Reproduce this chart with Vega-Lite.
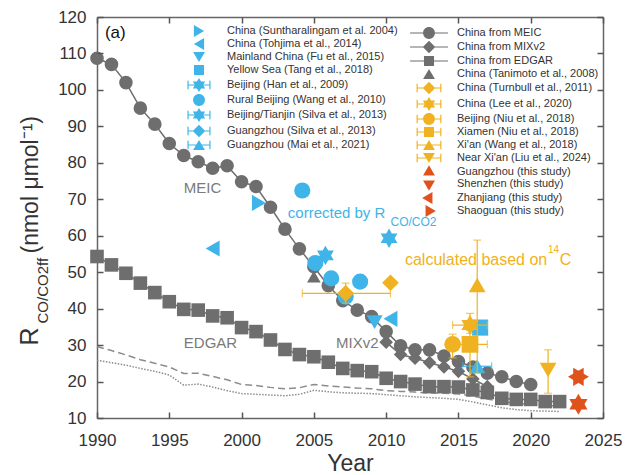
{
  "$schema": "https://vega.github.io/schema/vega-lite/v6.json",
  "width": 506,
  "height": 401,
  "autosize": "none",
  "padding": {"left": 97, "top": 17, "right": 30, "bottom": 57},
  "background": "white",
  "config": {
    "font": "Liberation Sans",
    "view": {"stroke": null},
    "axis": {
      "grid": false,
      "domainColor": "#666666",
      "domainWidth": 1.5,
      "tickColor": "#555555",
      "tickWidth": 1.5,
      "tickSize": 6,
      "labelFont": "Liberation Sans",
      "labelFontSize": 17,
      "labelColor": "#333333",
      "labelFlush": false,
      "labelOverlap": false,
      "titleFont": "Liberation Sans",
      "titleColor": "#333333",
      "titleFontWeight": "normal"
    },
    "legend": {
      "labelFont": "Liberation Sans",
      "labelFontSize": 11,
      "labelColor": "#333333",
      "labelLimit": 300,
      "symbolSize": 140,
      "symbolStrokeWidth": 0,
      "symbolOffset": 0,
      "rowPadding": 1,
      "padding": 0,
      "labelOffset": 22
    }
  },
  "datasets": {
    "refs": [
      {"series": "dashed", "year": 1990, "value": 29.6}, {"series": "dashed", "year": 1991, "value": 28.5},
      {"series": "dashed", "year": 1992, "value": 27.3}, {"series": "dashed", "year": 1993, "value": 26.0},
      {"series": "dashed", "year": 1994, "value": 25.0}, {"series": "dashed", "year": 1995, "value": 24.0},
      {"series": "dashed", "year": 1996, "value": 22.2}, {"series": "dashed", "year": 1997, "value": 22.3},
      {"series": "dashed", "year": 1998, "value": 21.4}, {"series": "dashed", "year": 1999, "value": 20.5},
      {"series": "dashed", "year": 2000, "value": 19.2}, {"series": "dashed", "year": 2001, "value": 18.9},
      {"series": "dashed", "year": 2002, "value": 18.4}, {"series": "dashed", "year": 2003, "value": 18.0},
      {"series": "dashed", "year": 2004, "value": 18.3}, {"series": "dashed", "year": 2005, "value": 19.2},
      {"series": "dashed", "year": 2006, "value": 18.8}, {"series": "dashed", "year": 2007, "value": 18.5},
      {"series": "dashed", "year": 2008, "value": 18.2}, {"series": "dashed", "year": 2009, "value": 18.0},
      {"series": "dashed", "year": 2010, "value": 17.5}, {"series": "dashed", "year": 2011, "value": 17.3},
      {"series": "dashed", "year": 2012, "value": 17.1}, {"series": "dashed", "year": 2013, "value": 16.9},
      {"series": "dashed", "year": 2014, "value": 16.8}, {"series": "dashed", "year": 2015, "value": 16.6},
      {"series": "dashed", "year": 2016, "value": 16.0}, {"series": "dashed", "year": 2017, "value": 15.2},
      {"series": "dashed", "year": 2018, "value": 14.5}, {"series": "dashed", "year": 2019, "value": 14.0},
      {"series": "dashed", "year": 2020, "value": 13.8}, {"series": "dashed", "year": 2021, "value": 13.5},
      {"series": "dashed", "year": 2022, "value": 13.2},
      {"series": "dotted", "year": 1990, "value": 25.8}, {"series": "dotted", "year": 1991, "value": 25.2},
      {"series": "dotted", "year": 1992, "value": 24.5}, {"series": "dotted", "year": 1993, "value": 23.6},
      {"series": "dotted", "year": 1994, "value": 22.8}, {"series": "dotted", "year": 1995, "value": 21.8},
      {"series": "dotted", "year": 1996, "value": 19.0}, {"series": "dotted", "year": 1997, "value": 19.3},
      {"series": "dotted", "year": 1998, "value": 18.5}, {"series": "dotted", "year": 1999, "value": 17.5},
      {"series": "dotted", "year": 2000, "value": 16.7}, {"series": "dotted", "year": 2001, "value": 16.5},
      {"series": "dotted", "year": 2002, "value": 16.3}, {"series": "dotted", "year": 2003, "value": 16.1},
      {"series": "dotted", "year": 2004, "value": 16.5}, {"series": "dotted", "year": 2005, "value": 17.6},
      {"series": "dotted", "year": 2006, "value": 17.2}, {"series": "dotted", "year": 2007, "value": 16.9},
      {"series": "dotted", "year": 2008, "value": 16.8}, {"series": "dotted", "year": 2009, "value": 16.7},
      {"series": "dotted", "year": 2010, "value": 16.4}, {"series": "dotted", "year": 2011, "value": 16.1},
      {"series": "dotted", "year": 2012, "value": 15.8}, {"series": "dotted", "year": 2013, "value": 15.6},
      {"series": "dotted", "year": 2014, "value": 15.4}, {"series": "dotted", "year": 2015, "value": 15.1},
      {"series": "dotted", "year": 2016, "value": 14.4}, {"series": "dotted", "year": 2017, "value": 13.6},
      {"series": "dotted", "year": 2018, "value": 12.8}, {"series": "dotted", "year": 2019, "value": 12.3},
      {"series": "dotted", "year": 2020, "value": 12.0}, {"series": "dotted", "year": 2021, "value": 11.9},
      {"series": "dotted", "year": 2022, "value": 11.8}
    ],
    "setB": [
      {"series": "China from MEIC", "year": 1990, "value": 108.7}, {"series": "China from MEIC", "year": 1991, "value": 107.0},
      {"series": "China from MEIC", "year": 1992, "value": 102.0}, {"series": "China from MEIC", "year": 1993, "value": 95.0},
      {"series": "China from MEIC", "year": 1994, "value": 90.6}, {"series": "China from MEIC", "year": 1995, "value": 85.3},
      {"series": "China from MEIC", "year": 1996, "value": 82.0}, {"series": "China from MEIC", "year": 1997, "value": 80.3},
      {"series": "China from MEIC", "year": 1998, "value": 78.5}, {"series": "China from MEIC", "year": 1999, "value": 79.2},
      {"series": "China from MEIC", "year": 2000, "value": 74.8}, {"series": "China from MEIC", "year": 2001, "value": 73.5},
      {"series": "China from MEIC", "year": 2002, "value": 67.8}, {"series": "China from MEIC", "year": 2003, "value": 61.8},
      {"series": "China from MEIC", "year": 2004, "value": 56.4}, {"series": "China from MEIC", "year": 2005, "value": 51.5},
      {"series": "China from MEIC", "year": 2006, "value": 46.3}, {"series": "China from MEIC", "year": 2007, "value": 42.2},
      {"series": "China from MEIC", "year": 2008, "value": 39.6}, {"series": "China from MEIC", "year": 2009, "value": 37.8},
      {"series": "China from MEIC", "year": 2010, "value": 33.7}, {"series": "China from MEIC", "year": 2011, "value": 29.8},
      {"series": "China from MEIC", "year": 2012, "value": 28.7}, {"series": "China from MEIC", "year": 2013, "value": 28.7},
      {"series": "China from MEIC", "year": 2014, "value": 27.0}, {"series": "China from MEIC", "year": 2015, "value": 25.5},
      {"series": "China from MEIC", "year": 2016, "value": 24.0}, {"series": "China from MEIC", "year": 2017, "value": 22.3},
      {"series": "China from MEIC", "year": 2018, "value": 21.3}, {"series": "China from MEIC", "year": 2019, "value": 20.0},
      {"series": "China from MEIC", "year": 2020, "value": 19.2},
      {"series": "China from MIXv2", "year": 2010, "value": 30.8}, {"series": "China from MIXv2", "year": 2011, "value": 27.4},
      {"series": "China from MIXv2", "year": 2012, "value": 26.4}, {"series": "China from MIXv2", "year": 2013, "value": 25.2},
      {"series": "China from MIXv2", "year": 2014, "value": 24.0}, {"series": "China from MIXv2", "year": 2015, "value": 22.8},
      {"series": "China from MIXv2", "year": 2016, "value": 20.7}, {"series": "China from MIXv2", "year": 2017, "value": 18.6},
      {"series": "China from EDGAR", "year": 1990, "value": 54.3}, {"series": "China from EDGAR", "year": 1991, "value": 52.0},
      {"series": "China from EDGAR", "year": 1992, "value": 49.7}, {"series": "China from EDGAR", "year": 1993, "value": 47.0},
      {"series": "China from EDGAR", "year": 1994, "value": 44.4}, {"series": "China from EDGAR", "year": 1995, "value": 41.9},
      {"series": "China from EDGAR", "year": 1996, "value": 39.8}, {"series": "China from EDGAR", "year": 1997, "value": 39.6},
      {"series": "China from EDGAR", "year": 1998, "value": 38.0}, {"series": "China from EDGAR", "year": 1999, "value": 37.5},
      {"series": "China from EDGAR", "year": 2000, "value": 34.8}, {"series": "China from EDGAR", "year": 2001, "value": 33.7},
      {"series": "China from EDGAR", "year": 2002, "value": 31.4}, {"series": "China from EDGAR", "year": 2003, "value": 28.8},
      {"series": "China from EDGAR", "year": 2004, "value": 27.4}, {"series": "China from EDGAR", "year": 2005, "value": 26.8},
      {"series": "China from EDGAR", "year": 2006, "value": 25.3}, {"series": "China from EDGAR", "year": 2007, "value": 23.6},
      {"series": "China from EDGAR", "year": 2008, "value": 23.0}, {"series": "China from EDGAR", "year": 2009, "value": 22.7},
      {"series": "China from EDGAR", "year": 2010, "value": 20.9}, {"series": "China from EDGAR", "year": 2011, "value": 20.0},
      {"series": "China from EDGAR", "year": 2012, "value": 19.3}, {"series": "China from EDGAR", "year": 2013, "value": 18.6},
      {"series": "China from EDGAR", "year": 2014, "value": 18.6}, {"series": "China from EDGAR", "year": 2015, "value": 18.5},
      {"series": "China from EDGAR", "year": 2016, "value": 17.7}, {"series": "China from EDGAR", "year": 2017, "value": 17.0},
      {"series": "China from EDGAR", "year": 2018, "value": 15.4}, {"series": "China from EDGAR", "year": 2019, "value": 15.1},
      {"series": "China from EDGAR", "year": 2020, "value": 15.1}, {"series": "China from EDGAR", "year": 2021, "value": 14.5},
      {"series": "China from EDGAR", "year": 2022, "value": 14.5},
      {"series": "China (Tanimoto et al., 2008)", "year": 2005, "value": 48.8},
      {"series": "China (Turnbull et al., 2011)", "year": 2007.2, "value": 44.2},
      {"series": "China (Turnbull et al., 2011)", "year": 2010.3, "value": 47.1},
      {"series": "China (Lee et al., 2020)", "year": 2015.8, "value": 35.5},
      {"series": "Beijing (Niu et al., 2018)", "year": 2014.6, "value": 30.2},
      {"series": "Xiamen (Niu et al., 2018)", "year": 2015.8, "value": 30.2},
      {"series": "Xi'an (Wang et al., 2018)", "year": 2016.3, "value": 46.5},
      {"series": "Near Xi'an (Liu et al., 2024)", "year": 2021.2, "value": 23.2},
      {"series": "Guangzhou (this study)", "year": 2023.3, "value": 13.8},
      {"series": "Shenzhen (this study)", "year": 2023.3, "value": 13.8},
      {"series": "Zhanjiang (this study)", "year": 2023.3, "value": 21.3},
      {"series": "Shaoguan (this study)", "year": 2023.3, "value": 21.3}
    ],
    "setA": [
      {"series": "China (Suntharalingam et al. 2004)", "year": 2001.2, "value": 69.0},
      {"series": "China (Tohjima et al., 2014)", "year": 1998.0, "value": 56.5},
      {"series": "China (Tohjima et al., 2014)", "year": 2010.3, "value": 37.2},
      {"series": "Mainland China (Fu et al., 2015)", "year": 2009.2, "value": 36.3},
      {"series": "Yellow Sea (Tang et al., 2018)", "year": 2016.5, "value": 34.8},
      {"series": "Beijing (Han et al., 2009)", "year": 2005.8, "value": 54.6},
      {"series": "Rural Beijing (Wang et al., 2010)", "year": 2004.2, "value": 72.4},
      {"series": "Rural Beijing (Wang et al., 2010)", "year": 2005.1, "value": 52.5},
      {"series": "Rural Beijing (Wang et al., 2010)", "year": 2006.2, "value": 48.3},
      {"series": "Rural Beijing (Wang et al., 2010)", "year": 2007.2, "value": 43.3},
      {"series": "Rural Beijing (Wang et al., 2010)", "year": 2008.2, "value": 47.4},
      {"series": "Beijing/Tianjin (Silva et al., 2013)", "year": 2010.2, "value": 59.3},
      {"series": "Guangzhou (Mai et al., 2021)", "year": 2016.3, "value": 24.2}
    ],
    "xerr": [
      {"series": "China (Turnbull et al., 2011)", "group": "c14", "value": 44.2, "lo": 2004.2, "hi": 2010.3},
      {"series": "China (Lee et al., 2020)", "group": "c14", "value": 35.5, "lo": 2014.6, "hi": 2017.0},
      {"series": "Xiamen (Niu et al., 2018)", "group": "c14", "value": 30.2, "lo": 2014.6, "hi": 2017.0},
      {"series": "Guangzhou (Mai et al., 2021)", "group": "ratio", "value": 24.2, "lo": 2015.3, "hi": 2017.3}
    ],
    "yerr": [
      {"series": "China (Turnbull et al., 2011)", "group": "c14", "year": 2007.2, "lo": 41.5, "hi": 47.0},
      {"series": "China (Lee et al., 2020)", "group": "c14", "year": 2015.8, "lo": 33.2, "hi": 38.7},
      {"series": "Beijing (Niu et al., 2018)", "group": "c14", "year": 2014.6, "lo": 26.5, "hi": 33.0},
      {"series": "Xiamen (Niu et al., 2018)", "group": "c14", "year": 2015.8, "lo": 21.3, "hi": 34.0},
      {"series": "Xi'an (Wang et al., 2018)", "group": "c14", "year": 2016.3, "lo": 22.3, "hi": 58.8},
      {"series": "Near Xi'an (Liu et al., 2024)", "group": "c14", "year": 2021.2, "lo": 16.8, "hi": 28.7}
    ]
  },
  "layer": [
    {
      "data": {"name": "refs"},
      "mark": {"type": "line", "color": "#8c8c8c", "strokeWidth": 1.5},
      "encoding": {
        "x": {"field": "year", "type": "quantitative", "scale": {"domain": [1990, 2025], "nice": false, "zero": false},
          "axis": {"orient": "bottom", "values": [1990, 1995, 2000, 2005, 2010, 2015, 2020, 2025], "format": "d", "ticks": false, "labelPadding": 14,
            "title": "Year", "titleFontSize": 23, "titleBaseline": "middle", "titleY": 45}},
        "y": {"field": "value", "type": "quantitative", "scale": {"domain": [10, 120], "nice": false, "zero": false},
          "axis": {"orient": "left", "values": [10, 20, 30, 40, 50, 60, 70, 80, 90, 100, 110, 120], "ticks": false, "labelPadding": 11,
            "title": "R", "titleFontSize": 25, "titleAngle": -90, "titleAlign": "left", "titleBaseline": "middle", "titleX": -68, "titleY": 328}},
        "strokeDash": {"field": "series", "type": "nominal", "scale": {"domain": ["dashed", "dotted"], "range": [[7, 4], [1.5, 1.5]]}, "legend": null}
      }
    },
    {
      "data": {"name": "setB"},
      "transform": [{"filter": {"field": "series", "oneOf": ["China from MEIC", "China from MIXv2", "China from EDGAR"]}}],
      "mark": {"type": "line", "color": "#6e6e6e", "strokeWidth": 1.5},
      "encoding": {
        "x": {"field": "year", "type": "quantitative", "scale": {"domain": [1990, 2025], "nice": false, "zero": false},
          "axis": {"orient": "top", "ticks": false, "labels": false, "title": null}},
        "y": {"field": "value", "type": "quantitative", "scale": {"domain": [10, 120], "nice": false, "zero": false},
          "axis": {"orient": "left", "labels": false, "ticks": false, "domain": false,
            "title": "CO/CO2ff", "titleFontSize": 15, "titleAngle": -90, "titleAlign": "left", "titleBaseline": "middle", "titleX": -55, "titleY": 306}},
        "detail": {"field": "series", "type": "nominal"}
      }
    },
    {
      "data": {"name": "setB"},
      "transform": [{"filter": {"field": "series", "oneOf": ["China from MEIC", "China from MIXv2", "China from EDGAR", "China (Tanimoto et al., 2008)"]}}],
      "mark": {"type": "point", "filled": true, "opacity": 1, "size": 185, "color": "#6e6e6e"},
      "encoding": {
        "x": {"field": "year", "type": "quantitative", "scale": {"domain": [1990, 2025], "nice": false, "zero": false},
          "axis": {"orient": "bottom", "values": [1990, 1995, 2000, 2005, 2010, 2015, 2020, 2025], "offset": -6, "domain": false, "labels": false, "ticks": true, "tickSize": 6, "zindex": 2, "title": null}},
        "y": {"field": "value", "type": "quantitative", "scale": {"domain": [10, 120], "nice": false, "zero": false},
          "axis": {"orient": "right", "ticks": false, "labels": false, "title": null}},
        "shape": {"field": "series", "type": "nominal",
          "scale": {"domain": ["China from MEIC", "China from MIXv2", "China from EDGAR", "China (Tanimoto et al., 2008)"],
            "range": ["circle", "diamond", "square", "triangle-up"]},
          "legend": null}
      }
    },
    {
      "data": {"name": "setA"},
      "mark": {"type": "point", "filled": true, "opacity": 1, "size": 260, "color": "#3fb4e8"},
      "encoding": {
        "x": {"field": "year", "type": "quantitative", "scale": {"domain": [1990, 2025], "nice": false, "zero": false},
          "axis": {"orient": "top", "values": [1990, 1995, 2000, 2005, 2010, 2015, 2020, 2025], "offset": -6, "domain": false, "labels": false, "ticks": true, "tickSize": 6, "zindex": 2, "title": null}},
        "y": {"field": "value", "type": "quantitative", "scale": {"domain": [10, 120], "nice": false, "zero": false},
          "axis": {"orient": "left", "labels": false, "ticks": false, "domain": false,
            "title": "(nmol μmol⁻¹)", "titleFontSize": 23, "titleAngle": -90, "titleAlign": "left", "titleBaseline": "middle", "titleX": -67, "titleY": 236}},
        "shape": {"field": "series", "type": "nominal",
          "scale": {"domain": ["China (Suntharalingam et al. 2004)", "China (Tohjima et al., 2014)", "Mainland China (Fu et al., 2015)", "Yellow Sea (Tang et al., 2018)", "Beijing (Han et al., 2009)", "Rural Beijing (Wang et al., 2010)", "Beijing/Tianjin (Silva et al., 2013)", "Guangzhou (Silva et al., 2013)", "Guangzhou (Mai et al., 2021)"],
            "range": ["triangle-right", "triangle-left", "triangle-down", "square", "M0,-1.2L0.346,-0.6L1.039,-0.6L0.693,0L1.039,0.6L0.346,0.6L0,1.2L-0.346,0.6L-1.039,0.6L-0.693,0L-1.039,-0.6L-0.346,-0.6Z", "circle", "M0,-1.2L0.346,-0.6L1.039,-0.6L0.693,0L1.039,0.6L0.346,0.6L0,1.2L-0.346,0.6L-1.039,0.6L-0.693,0L-1.039,-0.6L-0.346,-0.6Z", "diamond", "triangle-up"]},
          "legend": null}
      }
    },
    {
      "data": {"name": "setA"},
      "transform": [{"filter": "false"}],
      "mark": {"type": "point", "filled": true, "opacity": 1},
      "encoding": {
        "x": {"field": "year", "type": "quantitative", "scale": {"domain": [1990, 2025], "nice": false, "zero": false}, "axis": null},
        "y": {"field": "value", "type": "quantitative", "scale": {"domain": [10, 120], "nice": false, "zero": false}, "axis": null},
        "color": {"field": "series", "type": "nominal",
          "scale": {"domain": ["China (Suntharalingam et al. 2004)", "China (Tohjima et al., 2014)", "Mainland China (Fu et al., 2015)", "Yellow Sea (Tang et al., 2018)", "Beijing (Han et al., 2009)", "Rural Beijing (Wang et al., 2010)", "Beijing/Tianjin (Silva et al., 2013)", "Guangzhou (Silva et al., 2013)", "Guangzhou (Mai et al., 2021)"],
            "range": ["#3fb4e8", "#3fb4e8", "#3fb4e8", "#3fb4e8", "#3fb4e8", "#3fb4e8", "#3fb4e8", "#3fb4e8", "#3fb4e8"]},
          "legend": {"title": null, "orient": "none", "legendX": 96, "legendY": 8}},
        "shape": {"field": "series", "type": "nominal",
          "scale": {"domain": ["China (Suntharalingam et al. 2004)", "China (Tohjima et al., 2014)", "Mainland China (Fu et al., 2015)", "Yellow Sea (Tang et al., 2018)", "Beijing (Han et al., 2009)", "Rural Beijing (Wang et al., 2010)", "Beijing/Tianjin (Silva et al., 2013)", "Guangzhou (Silva et al., 2013)", "Guangzhou (Mai et al., 2021)"],
            "range": [
              "M-3.2,0 M3.2,0 M0.866,0L-0.866,-1L-0.866,1Z",
              "M-3.2,0 M3.2,0 M-0.866,0L0.866,1L0.866,-1Z",
              "M-3.2,0 M3.2,0 M0,0.866L-1,-0.866L1,-0.866Z",
              "M-3.2,0 M3.2,0 M-0.85,-0.85H0.85V0.85H-0.85Z",
              "M-3.2,0 M3.2,0 M-1.85,-0.09H1.85V0.09H-1.85Z M-1.95,-0.7H-1.75V0.7H-1.95Z M1.75,-0.7H1.95V0.7H1.75Z M0,-1.2L0.346,-0.6L1.039,-0.6L0.693,0L1.039,0.6L0.346,0.6L0,1.2L-0.346,0.6L-1.039,0.6L-0.693,0L-1.039,-0.6L-0.346,-0.6Z",
              "M-3.2,0 M3.2,0 M-1,0A1,1,0,1,1,1,0A1,1,0,1,1,-1,0Z",
              "M-3.2,0 M3.2,0 M-1.85,-0.09H1.85V0.09H-1.85Z M-1.95,-0.7H-1.75V0.7H-1.95Z M1.75,-0.7H1.95V0.7H1.75Z M0,-1.2L0.346,-0.6L1.039,-0.6L0.693,0L1.039,0.6L0.346,0.6L0,1.2L-0.346,0.6L-1.039,0.6L-0.693,0L-1.039,-0.6L-0.346,-0.6Z",
              "M-3.2,0 M3.2,0 M-1.85,-0.09H1.85V0.09H-1.85Z M-1.95,-0.7H-1.75V0.7H-1.95Z M1.75,-0.7H1.95V0.7H1.75Z M0,-1.05L1.05,0L0,1.05L-1.05,0Z",
              "M-3.2,0 M3.2,0 M-1.85,-0.09H1.85V0.09H-1.85Z M-1.95,-0.7H-1.75V0.7H-1.95Z M1.75,-0.7H1.95V0.7H1.75Z M0,-0.866L1,0.866L-1,0.866Z"
            ]},
          "legend": {"title": null, "orient": "none", "legendX": 96, "legendY": 8}}
      }
    },
    {
      "data": {"name": "xerr"},
      "mark": {"type": "rule", "strokeWidth": 1.2},
      "encoding": {
        "x": {"field": "lo", "type": "quantitative", "scale": {"domain": [1990, 2025], "nice": false, "zero": false}, "axis": null},
        "x2": {"field": "hi"},
        "y": {"field": "value", "type": "quantitative", "scale": {"domain": [10, 120], "nice": false, "zero": false},
          "axis": {"orient": "left", "values": [10, 20, 30, 40, 50, 60, 70, 80, 90, 100, 110, 120], "offset": -6, "domain": false, "labels": false, "ticks": true, "tickSize": 6, "zindex": 2, "title": null}},
        "color": {"field": "group", "type": "nominal", "scale": {"domain": ["ratio", "c14"], "range": ["#3fb4e8", "#f0b220"]}, "legend": null}
      }
    },
    {
      "data": {"name": "xerr"},
      "transform": [{"fold": ["lo", "hi"], "as": ["end", "pos"]}],
      "mark": {"type": "tick", "orient": "vertical", "size": 8, "thickness": 1.2},
      "encoding": {
        "x": {"field": "pos", "type": "quantitative", "scale": {"domain": [1990, 2025], "nice": false, "zero": false}, "axis": null},
        "y": {"field": "value", "type": "quantitative", "scale": {"domain": [10, 120], "nice": false, "zero": false},
          "axis": {"orient": "right", "values": [10, 20, 30, 40, 50, 60, 70, 80, 90, 100, 110, 120], "offset": -6, "domain": false, "labels": false, "ticks": true, "tickSize": 6, "zindex": 2, "title": null}},
        "color": {"field": "group", "type": "nominal", "scale": {"domain": ["ratio", "c14"], "range": ["#3fb4e8", "#f0b220"]}, "legend": null}
      }
    },
    {
      "data": {"name": "yerr"},
      "mark": {"type": "rule", "strokeWidth": 1.2},
      "encoding": {
        "x": {"field": "year", "type": "quantitative", "scale": {"domain": [1990, 2025], "nice": false, "zero": false}, "axis": null},
        "y": {"field": "lo", "type": "quantitative", "scale": {"domain": [10, 120], "nice": false, "zero": false}, "axis": null},
        "y2": {"field": "hi"},
        "color": {"field": "group", "type": "nominal", "scale": {"domain": ["ratio", "c14"], "range": ["#3fb4e8", "#f0b220"]}, "legend": null}
      }
    },
    {
      "data": {"name": "yerr"},
      "transform": [{"fold": ["lo", "hi"], "as": ["end", "pos"]}],
      "mark": {"type": "tick", "orient": "horizontal", "size": 8, "thickness": 1.2},
      "encoding": {
        "x": {"field": "year", "type": "quantitative", "scale": {"domain": [1990, 2025], "nice": false, "zero": false}, "axis": null},
        "y": {"field": "pos", "type": "quantitative", "scale": {"domain": [10, 120], "nice": false, "zero": false}, "axis": null},
        "color": {"field": "group", "type": "nominal", "scale": {"domain": ["ratio", "c14"], "range": ["#3fb4e8", "#f0b220"]}, "legend": null}
      }
    },
    {
      "data": {"name": "setB"},
      "transform": [{"filter": {"field": "series", "oneOf": ["China (Turnbull et al., 2011)", "China (Lee et al., 2020)", "Beijing (Niu et al., 2018)", "Xiamen (Niu et al., 2018)", "Xi'an (Wang et al., 2018)", "Near Xi'an (Liu et al., 2024)"]}}],
      "mark": {"type": "point", "filled": true, "opacity": 1, "size": 280, "color": "#f0b220"},
      "encoding": {
        "x": {"field": "year", "type": "quantitative", "scale": {"domain": [1990, 2025], "nice": false, "zero": false}, "axis": null},
        "y": {"field": "value", "type": "quantitative", "scale": {"domain": [10, 120], "nice": false, "zero": false}, "axis": null},
        "shape": {"field": "series", "type": "nominal",
          "scale": {"domain": ["China (Turnbull et al., 2011)", "China (Lee et al., 2020)", "Beijing (Niu et al., 2018)", "Xiamen (Niu et al., 2018)", "Xi'an (Wang et al., 2018)", "Near Xi'an (Liu et al., 2024)"],
            "range": ["diamond", "M0,-1.2L0.346,-0.6L1.039,-0.6L0.693,0L1.039,0.6L0.346,0.6L0,1.2L-0.346,0.6L-1.039,0.6L-0.693,0L-1.039,-0.6L-0.346,-0.6Z", "circle", "square", "triangle-up", "triangle-down"]},
          "legend": null}
      }
    },
    {
      "data": {"name": "setB"},
      "transform": [{"filter": {"field": "series", "oneOf": ["Guangzhou (this study)", "Shenzhen (this study)", "Zhanjiang (this study)", "Shaoguan (this study)"]}}],
      "mark": {"type": "point", "filled": true, "opacity": 1, "size": 330},
      "encoding": {
        "x": {"field": "year", "type": "quantitative", "scale": {"domain": [1990, 2025], "nice": false, "zero": false}, "axis": null},
        "y": {"field": "value", "type": "quantitative", "scale": {"domain": [10, 120], "nice": false, "zero": false}, "axis": null},
        "color": {"field": "series", "type": "nominal",
          "scale": {"domain": ["China from MEIC", "China from MIXv2", "China from EDGAR", "China (Tanimoto et al., 2008)", "China (Turnbull et al., 2011)", "China (Lee et al., 2020)", "Beijing (Niu et al., 2018)", "Xiamen (Niu et al., 2018)", "Xi'an (Wang et al., 2018)", "Near Xi'an (Liu et al., 2024)", "Guangzhou (this study)", "Shenzhen (this study)", "Zhanjiang (this study)", "Shaoguan (this study)"],
            "range": ["#6e6e6e", "#6e6e6e", "#6e6e6e", "#6e6e6e", "#f0b220", "#f0b220", "#f0b220", "#f0b220", "#f0b220", "#f0b220", "#e0521c", "#e0521c", "#e0521c", "#e0521c"]},
          "legend": {"title": null, "orient": "none", "legendX": 326, "legendY": 10, "symbolOffset": 0, "labelOffset": 22}},
        "shape": {"field": "series", "type": "nominal",
          "scale": {"domain": ["China from MEIC", "China from MIXv2", "China from EDGAR", "China (Tanimoto et al., 2008)", "China (Turnbull et al., 2011)", "China (Lee et al., 2020)", "Beijing (Niu et al., 2018)", "Xiamen (Niu et al., 2018)", "Xi'an (Wang et al., 2018)", "Near Xi'an (Liu et al., 2024)", "Guangzhou (this study)", "Shenzhen (this study)", "Zhanjiang (this study)", "Shaoguan (this study)"],
            "range": [
              "M-3.2,-0.1H3.2V0.1H-3.2Z M-1,0A1,1,0,1,1,1,0A1,1,0,1,1,-1,0Z",
              "M-3.2,-0.1H3.2V0.1H-3.2Z M0,-1.05L1.05,0L0,1.05L-1.05,0Z",
              "M-3.2,-0.1H3.2V0.1H-3.2Z M-0.85,-0.85H0.85V0.85H-0.85Z",
              "M-3.2,0 M3.2,0 M0,-0.866L1,0.866L-1,0.866Z",
              "M-3.2,0 M3.2,0 M-2,-0.09H2V0.09H-2Z M-2.1,-0.7H-1.9V0.7H-2.1Z M1.9,-0.7H2.1V0.7H1.9Z M0,-1.05L1.05,0L0,1.05L-1.05,0Z",
              "M-3.2,0 M3.2,0 M-2,-0.09H2V0.09H-2Z M-2.1,-0.7H-1.9V0.7H-2.1Z M1.9,-0.7H2.1V0.7H1.9Z M0,-1.2L0.346,-0.6L1.039,-0.6L0.693,0L1.039,0.6L0.346,0.6L0,1.2L-0.346,0.6L-1.039,0.6L-0.693,0L-1.039,-0.6L-0.346,-0.6Z",
              "M-3.2,0 M3.2,0 M-2,-0.09H2V0.09H-2Z M-2.1,-0.7H-1.9V0.7H-2.1Z M1.9,-0.7H2.1V0.7H1.9Z M-1,0A1,1,0,1,1,1,0A1,1,0,1,1,-1,0Z",
              "M-3.2,0 M3.2,0 M-2,-0.09H2V0.09H-2Z M-2.1,-0.7H-1.9V0.7H-2.1Z M1.9,-0.7H2.1V0.7H1.9Z M-0.85,-0.85H0.85V0.85H-0.85Z",
              "M-3.2,0 M3.2,0 M-2,-0.09H2V0.09H-2Z M-2.1,-0.7H-1.9V0.7H-2.1Z M1.9,-0.7H2.1V0.7H1.9Z M0,-0.866L1,0.866L-1,0.866Z",
              "M-3.2,0 M3.2,0 M-2,-0.09H2V0.09H-2Z M-2.1,-0.7H-1.9V0.7H-2.1Z M1.9,-0.7H2.1V0.7H1.9Z M0,0.866L-1,-0.866L1,-0.866Z",
              "M-3.2,0 M3.2,0 M0,-1.155L1,0.577L-1,0.577Z",
              "M-3.2,0 M3.2,0 M0,1.155L-1,-0.577L1,-0.577Z",
              "M-3.2,0 M3.2,0 M-1.155,0L0.577,-1L0.577,1Z",
              "M-3.2,0 M3.2,0 M1.155,0L-0.577,1L-0.577,-1Z"
            ]},
          "legend": {"title": null, "orient": "none", "legendX": 326, "legendY": 10, "symbolOffset": 0, "labelOffset": 22}}
      }
    },
    {
      "data": {"values": [{"t": "MEIC", "year": 1997.3, "value": 73.0}, {"t": "EDGAR", "year": 1997.85, "value": 30.7}, {"t": "MIXv2", "year": 2008.0, "value": 30.5}]},
      "mark": {"type": "text", "fontSize": 15, "color": "#7a7a7a", "align": "center", "baseline": "middle"},
      "encoding": {
        "x": {"field": "year", "type": "quantitative", "scale": {"domain": [1990, 2025], "nice": false, "zero": false}, "axis": null},
        "y": {"field": "value", "type": "quantitative", "scale": {"domain": [10, 120], "nice": false, "zero": false}, "axis": null},
        "text": {"field": "t"}
      }
    },
    {
      "data": {"values": [{"t": "(a)", "year": 1990.55, "value": 115.5}]},
      "mark": {"type": "text", "fontSize": 17, "color": "#111111", "align": "left", "baseline": "middle"},
      "encoding": {
        "x": {"field": "year", "type": "quantitative", "scale": {"domain": [1990, 2025], "nice": false, "zero": false}, "axis": null},
        "y": {"field": "value", "type": "quantitative", "scale": {"domain": [10, 120], "nice": false, "zero": false}, "axis": null},
        "text": {"field": "t"}
      }
    },
    {
      "data": {"values": [{"t": "corrected by R", "year": 2003.2, "value": 66.2}]},
      "mark": {"type": "text", "fontSize": 15, "color": "#3fb4e8", "align": "left", "baseline": "middle"},
      "encoding": {
        "x": {"field": "year", "type": "quantitative", "scale": {"domain": [1990, 2025], "nice": false, "zero": false}, "axis": null},
        "y": {"field": "value", "type": "quantitative", "scale": {"domain": [10, 120], "nice": false, "zero": false}, "axis": null},
        "text": {"field": "t"}
      }
    },
    {
      "data": {"values": [{"t": "CO/CO2", "year": 2010.3, "value": 63.9}]},
      "mark": {"type": "text", "fontSize": 12, "color": "#3fb4e8", "align": "left", "baseline": "middle"},
      "encoding": {
        "x": {"field": "year", "type": "quantitative", "scale": {"domain": [1990, 2025], "nice": false, "zero": false}, "axis": null},
        "y": {"field": "value", "type": "quantitative", "scale": {"domain": [10, 120], "nice": false, "zero": false}, "axis": null},
        "text": {"field": "t"}
      }
    },
    {
      "data": {"values": [{"t": "calculated based on", "year": 2011.3, "value": 53.3}, {"t": "C", "year": 2022.0, "value": 53.3}]},
      "mark": {"type": "text", "fontSize": 16, "color": "#f0b220", "align": "left", "baseline": "middle"},
      "encoding": {
        "x": {"field": "year", "type": "quantitative", "scale": {"domain": [1990, 2025], "nice": false, "zero": false}, "axis": null},
        "y": {"field": "value", "type": "quantitative", "scale": {"domain": [10, 120], "nice": false, "zero": false}, "axis": null},
        "text": {"field": "t"}
      }
    },
    {
      "data": {"values": [{"t": "14", "year": 2021.2, "value": 56.1}]},
      "mark": {"type": "text", "fontSize": 10, "color": "#f0b220", "align": "left", "baseline": "middle"},
      "encoding": {
        "x": {"field": "year", "type": "quantitative", "scale": {"domain": [1990, 2025], "nice": false, "zero": false}, "axis": null},
        "y": {"field": "value", "type": "quantitative", "scale": {"domain": [10, 120], "nice": false, "zero": false}, "axis": null},
        "text": {"field": "t"}
      }
    }
  ],
  "resolve": {
    "scale": {"color": "independent", "shape": "independent"},
    "axis": {"x": "independent", "y": "independent"}
  }
}
